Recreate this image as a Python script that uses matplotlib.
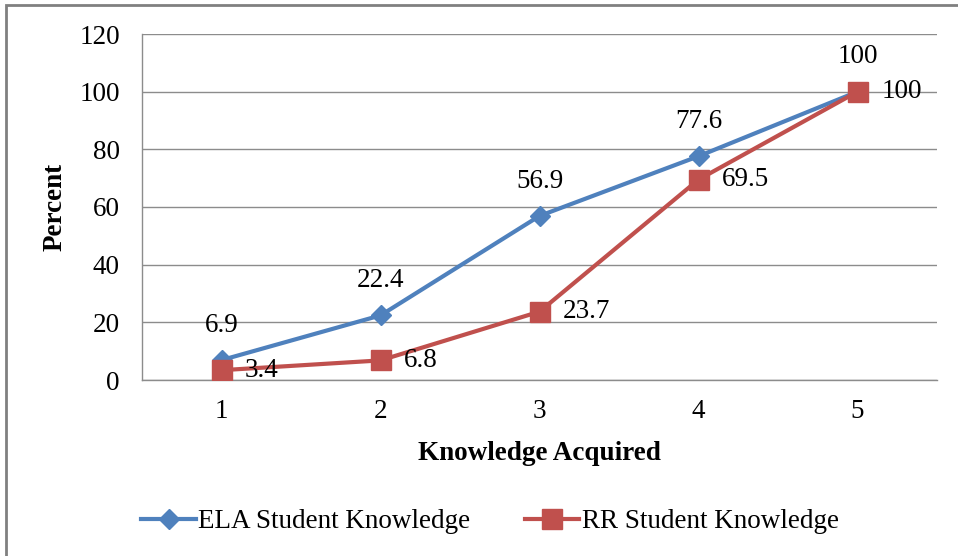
import matplotlib
matplotlib.use("Agg")
import matplotlib.pyplot as plt
from matplotlib.patches import Rectangle

# knowledge levels and percent of students for each group
levels = [1, 2, 3, 4, 5]
ela_percent = [6.9, 22.4, 56.9, 77.6, 100]
rr_percent = [3.4, 6.8, 23.7, 69.5, 100]

BLUE = "#4F81BD"
RED = "#C0504D"
GRID = "#8C8C8C"

plt.rcParams["font.family"] = ["Liberation Serif", "DejaVu Serif"]
FS = 19.5


def main():
    fig = plt.figure(figsize=(9.58, 5.56), dpi=100)
    ax = fig.add_axes([142 / 958, 176 / 556, 795 / 958, 346 / 556])

    ax.plot(levels, ela_percent, color=BLUE, lw=3, marker="D", ms=10,
            label="ELA Student Knowledge", zorder=3)
    ax.plot(levels, rr_percent, color=RED, lw=3, marker="s", ms=14.5,
            label="RR Student Knowledge", zorder=4)

    for x, y in zip(levels, ela_percent):
        ax.annotate("{:g}".format(y), (x, y), xytext=(0, 25), textcoords="offset points",
                    ha="center", va="center", fontsize=FS, zorder=5)
    for x, y in zip(levels, rr_percent):
        ax.annotate("{:g}".format(y), (x, y), xytext=(17, 0), textcoords="offset points",
                    ha="left", va="center", fontsize=FS, zorder=5)

    ax.set_xlim(0.5, 5.5)
    ax.set_ylim(0, 120)
    ax.set_xticks(levels)
    ax.set_yticks(range(0, 121, 20))
    ax.tick_params(axis="both", length=0, labelsize=FS)
    ax.tick_params(axis="y", pad=16)
    ax.tick_params(axis="x", pad=14)
    ax.yaxis.grid(True, color=GRID, lw=1)
    ax.set_axisbelow(True)
    for side in ["top", "right"]:
        ax.spines[side].set_visible(False)
    for side in ["left", "bottom"]:
        ax.spines[side].set_color(GRID)
        ax.spines[side].set_linewidth(1)

    ax.set_xlabel("Knowledge Acquired", fontsize=FS, fontweight="bold", labelpad=12)
    ax.set_ylabel("Percent", fontsize=FS, fontweight="bold", labelpad=8)

    fig.legend(loc="center", bbox_to_anchor=(490 / 958, 1 - 522 / 556), ncol=2,
               frameon=False, fontsize=FS, handlelength=2.0, handletextpad=0.1,
               columnspacing=2.0)

    # outer chart frame
    fig.patches.append(Rectangle((6 / 958, -0.2), 1.2, 1.2 - 5 / 556,
                                 transform=fig.transFigure, fill=False,
                                 edgecolor="#808080", lw=2))

    fig.savefig("out.png", dpi=100)


if __name__ == "__main__":
    main()
